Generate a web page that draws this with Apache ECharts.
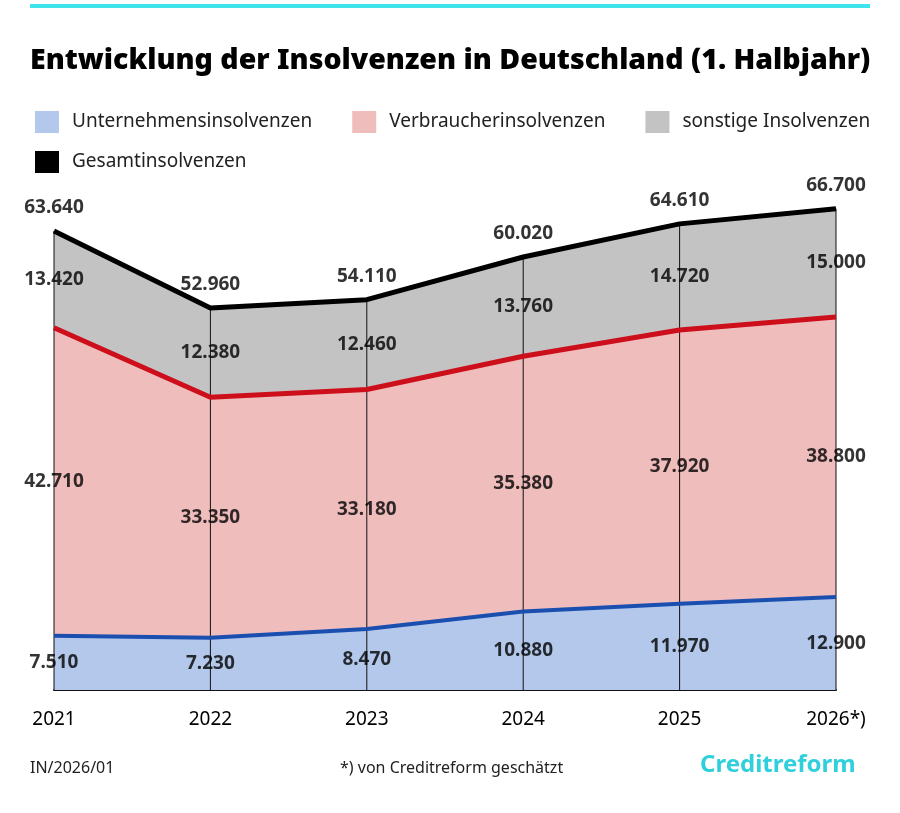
<!DOCTYPE html>
<html>
<head>
<meta charset="UTF-8">
<title>Insolvenzen</title>
<script src="https://cdn.jsdelivr.net/npm/echarts@6/dist/echarts.min.js"></script>
</head>
<body style="margin:0;background:#fff">
<div id="main" style="width:900px;height:813px;"></div>
<script>
var years = ['2021', '2022', '2023', '2024', '2025', '2026*)'];
var unternehmen = [7510, 7230, 8470, 10880, 11970, 12900];
var verbraucher = [42710, 33350, 33180, 35380, 37920, 38800];
var sonstige = [13420, 12380, 12460, 13760, 14720, 15000];
var gesamt = [63640, 52960, 54110, 60020, 64610, 66700];

var fnt = 'Noto Sans';
function fmt(v) { return String(v).replace(/\B(?=(\d{3})+(?!\d))/g, '.'); }

// label points in the middle of each band
function mids(base, vals) {
    return vals.map(function (v, i) { return { value: [i, base[i] + v / 2], raw: v }; });
}
var zero = [0, 0, 0, 0, 0, 0];
var b2 = unternehmen;
var b3 = unternehmen.map(function (v, i) { return v + verbraucher[i]; });
var tops = gesamt.map(function (v, i) { return { value: [i, v], raw: v }; });

function labelSeries(data, pos) {
    return {
        type: 'scatter', symbolSize: 0, z: 10, silent: true, data: data, itemStyle: { color: 'transparent' },
        label: { show: true, position: pos || 'inside', distance: 14, color: '#000', fontFamily: fnt, fontWeight: 'bold', fontSize: 19,
            formatter: function (p) { return fmt(p.data.raw); } }
    };
}

var legText = { fontSize: 19, color: '#222', fontFamily: fnt, padding: [0, 0, 0, 8] };
var chart = echarts.init(document.getElementById('main'));
chart.setOption({
    animation: false,
    textStyle: { fontFamily: fnt },
    grid: { left: 54, right: 64, top: 185, bottom: 123 },
    legend: [{
        left: 30, top: 106, itemGap: 40, itemWidth: 24, itemHeight: 22, icon: 'rect', textStyle: legText,
        data: ['Unternehmensinsolvenzen', 'Verbraucherinsolvenzen', 'sonstige Insolvenzen']
    }, {
        left: 30, top: 146, itemWidth: 24, itemHeight: 22, icon: 'rect', textStyle: legText,
        data: ['Gesamtinsolvenzen']
    }],
    xAxis: {
        type: 'category', data: years, boundaryGap: false,
        axisLine: { lineStyle: { color: '#111', width: 2 } },
        axisTick: { show: false },
        axisLabel: { color: '#000', fontSize: 19, margin: 20, fontFamily: fnt }
    },
    yAxis: { type: 'value', min: 0, max: 70000, show: false, splitLine: { show: false } },
    series: [
        { name: 'Unternehmensinsolvenzen', type: 'line', stack: 'a', symbol: 'none', data: unternehmen,
          itemStyle: { color: '#b3c8ea' }, lineStyle: { width: 0 }, areaStyle: { color: '#b3c8ea', opacity: 1 } },
        { name: 'Verbraucherinsolvenzen', type: 'line', stack: 'a', symbol: 'none', data: verbraucher,
          itemStyle: { color: '#f0bdbd' }, lineStyle: { width: 0 }, areaStyle: { color: '#f0bdbd', opacity: 1 } },
        { name: 'sonstige Insolvenzen', type: 'line', stack: 'a', symbol: 'none', data: sonstige,
          itemStyle: { color: '#c3c3c3' }, lineStyle: { width: 0 }, areaStyle: { color: '#c3c3c3', opacity: 1 } },
        { type: 'bar', data: gesamt, barWidth: 1, itemStyle: { color: '#111' }, z: 3, silent: true },
        { type: 'line', stack: 'l', symbol: 'none', data: unternehmen, z: 4, lineStyle: { color: '#1a4fb0', width: 4 } },
        { type: 'line', stack: 'l', symbol: 'none', data: verbraucher, z: 4, lineStyle: { color: '#cc0f1b', width: 5 } },
        { name: 'Gesamtinsolvenzen', type: 'line', symbol: 'none', data: gesamt, z: 5,
          itemStyle: { color: '#000' }, lineStyle: { color: '#000', width: 5 } },
        labelSeries(tops, 'top'),
        labelSeries(mids(zero, unternehmen)),
        labelSeries(mids(b2, verbraucher)),
        labelSeries(mids(b3, sonstige))
    ],
    graphic: [
        { type: 'rect', shape: { x: 30, y: 4, width: 840, height: 4 }, style: { fill: '#3fe3ea' } },
        { type: 'text', left: 30, top: 46, style: { text: 'Entwicklung der Insolvenzen in Deutschland (1. Halbjahr)',
            font: '900 28.5px "Noto Sans"', fill: '#000' } },
        { type: 'text', left: 30, top: 760, style: { text: 'IN/2026/01', font: '16px "Noto Sans"', fill: '#222' } },
        { type: 'text', left: 340, top: 760, style: { text: '*) von Creditreform geschätzt', font: '16px "Noto Sans"', fill: '#222' } },
        { type: 'text', left: 700, top: 753, style: { text: 'Creditreform', font: 'bold 24px "Noto Sans"', fill: '#2fd0dc' } }
    ]
});
</script>
</body>
</html>
